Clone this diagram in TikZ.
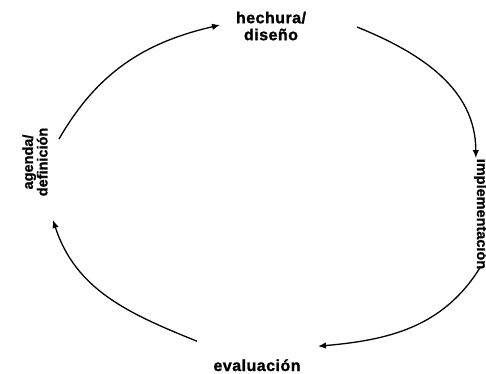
\documentclass[tikz,border=0pt]{standalone}
\usepackage{fontspec}
\setmainfont{Liberation Sans}[LetterSpace=3,BoldFeatures={FakeBold=1.2}]
\newfontfamily\narrowlbl{Liberation Sans}[BoldFeatures={FakeBold=1.2}]
\usetikzlibrary{arrows.meta,calc}
\begin{document}
\begin{tikzpicture}[x=1pt,y=1pt,
  lbl/.style={font=\bfseries\fontsize{16}{17}\selectfont,inner sep=0pt,align=center},
  vlbl/.style={font=\narrowlbl\bfseries\fontsize{14.5}{14.5}\selectfont,inner sep=0pt,align=center},
  cyc/.style={line width=1.3pt,-{Latex[length=8pt,width=6.5pt]}}]
\useasboundingbox (0,0) rectangle (486,373);
\node[lbl] (hech) at (271,347) {hechura/\\diseño};
\node[vlbl,anchor=base,rotate=-90] (impl) at (477,159) {implementación};
\node[lbl,anchor=base] (eval) at (257,2) {evaluación};
\node[vlbl,rotate=90] (agen) at (35,211) {agenda/\\definición};
\coordinate (a1s) at ($(agen)+(24,23)$);
\coordinate (a1e) at ($(hech)+(-51,1)$);
\coordinate (a2s) at ($(hech)+(86,-1)$);
\coordinate (a2e) at ($(impl)+(-5,56)$);
\coordinate (a3s) at ($(impl)+(-1,-54)$);
\coordinate (a3e) at ($(eval)+(61,19)$);
\coordinate (a4s) at ($(eval)+(-60,24)$);
\coordinate (a4e) at ($(agen)+(18,-58)$);
\draw[cyc] (a1s) to[out=60,in=193] (a1e);
\draw[cyc] (a2s) to[out=-22,in=90] (a2e);
\draw[cyc] (a3s) to[out=238,in=5] (a3e);
\draw[cyc] (a4s) to[out=158,in=-72] (a4e);
\end{tikzpicture}
\end{document}
